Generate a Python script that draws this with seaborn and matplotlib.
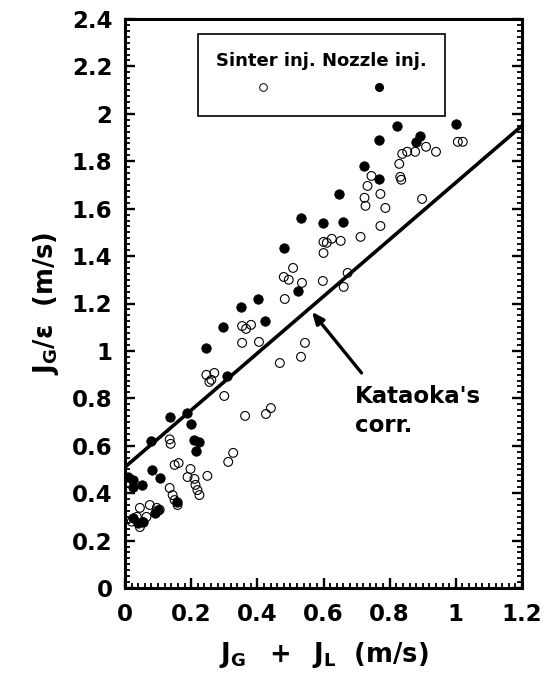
import matplotlib
matplotlib.use("Agg")
import matplotlib.pyplot as plt
import seaborn as sns
import numpy as np
import pandas as pd
from matplotlib.lines import Line2D
from matplotlib.ticker import MultipleLocator, FuncFormatter

# ---- data ----
sinter_x = [0.255, 0.300, 0.363, 0.426, 0.441, 0.135, 0.138, 0.150, 0.162, 0.198,
            0.189, 0.210, 0.213, 0.219, 0.225, 0.249, 0.327, 0.312, 0.135, 0.144,
            0.150, 0.159, 0.045, 0.075, 0.096, 0.036, 0.054, 0.045, 0.065, 0.105,
            0.020, 0.246, 0.261, 0.270, 0.354, 0.366, 0.381, 0.354, 0.405, 0.483,
            0.480, 0.495, 0.508, 0.535, 0.598, 0.600, 0.600, 0.610, 0.625, 0.652,
            0.712, 0.673, 0.661, 0.544, 0.532, 0.468, 1.006, 1.021, 0.910, 0.940,
            0.877, 0.853, 0.838, 0.829, 0.832, 0.835, 0.745, 0.733, 0.724, 0.727,
            0.772, 0.787, 0.772, 0.898]
sinter_y = [0.869, 0.810, 0.726, 0.734, 0.759, 0.627, 0.608, 0.519, 0.527, 0.502,
            0.468, 0.460, 0.435, 0.413, 0.392, 0.473, 0.570, 0.532, 0.422, 0.392,
            0.371, 0.350, 0.338, 0.350, 0.338, 0.300, 0.278, 0.257, 0.300, 0.330,
            0.280, 0.899, 0.878, 0.907, 1.105, 1.093, 1.110, 1.034, 1.038, 1.219,
            1.312, 1.300, 1.350, 1.287, 1.295, 1.413, 1.460, 1.456, 1.473, 1.464,
            1.481, 1.329, 1.270, 1.034, 0.975, 0.949, 1.882, 1.882, 1.861, 1.840,
            1.840, 1.840, 1.831, 1.789, 1.734, 1.722, 1.738, 1.696, 1.646, 1.612,
            1.662, 1.603, 1.527, 1.641]

nozzle_x = [0.008, 0.024, 0.051, 0.024, 0.081, 0.105, 0.078, 0.135, 0.186, 0.201,
            0.210, 0.225, 0.216, 0.024, 0.039, 0.054, 0.090, 0.099, 0.156, 0.246,
            0.297, 0.351, 0.402, 0.423, 0.523, 0.309, 0.480, 0.532, 0.598, 0.658,
            0.646, 0.721, 0.769, 0.769, 0.823, 0.892, 0.880, 1.000]
nozzle_y = [0.470, 0.456, 0.435, 0.426, 0.498, 0.464, 0.620, 0.720, 0.738, 0.692,
            0.624, 0.616, 0.578, 0.295, 0.274, 0.278, 0.316, 0.329, 0.363, 1.013,
            1.101, 1.186, 1.219, 1.127, 1.253, 0.894, 1.435, 1.561, 1.540, 1.544,
            1.662, 1.781, 1.726, 1.890, 1.949, 1.907, 1.882, 1.958]

kataoka_x = [0.0, 1.2]
kataoka_y = [0.51, 1.95]

series_labels = ["Sinter inj.", "Nozzle inj."]
annotation_text = "Kataoka's\ncorr."
x_ticks = [0, 0.2, 0.4, 0.6, 0.8, 1.0, 1.2]
y_ticks = [0, 0.2, 0.4, 0.6, 0.8, 1.0, 1.2, 1.4, 1.6, 1.8, 2.0, 2.2, 2.4]

# ---- style ----
sns.set_style("ticks")
plt.rcParams["font.family"] = ["DejaVu Sans"]
plt.rcParams["font.weight"] = "bold"
plt.rcParams["mathtext.fontset"] = "dejavusans"
for key in ["text.color", "axes.labelcolor", "xtick.color", "ytick.color",
            "axes.edgecolor"]:
    plt.rcParams[key] = "black"

fig = plt.figure(figsize=(5.51, 6.81), dpi=100)
ax = fig.add_axes([125 / 551, 1 - 588 / 681, 397 / 551, 569 / 681])

df_s = pd.DataFrame({"x": sinter_x, "y": sinter_y})
df_n = pd.DataFrame({"x": nozzle_x, "y": nozzle_y})
df_k = pd.DataFrame({"x": kataoka_x, "y": kataoka_y})

sns.lineplot(data=df_k, x="x", y="y", ax=ax, color="black", linewidth=2.6,
             legend=False, zorder=2)
sns.scatterplot(data=df_n, x="x", y="y", ax=ax, color="black", s=46,
                edgecolor="black", linewidth=0.6, legend=False, zorder=3)
sns.scatterplot(data=df_s, x="x", y="y", ax=ax, facecolor="none", s=40,
                edgecolor="black", linewidth=0.8, legend=False, zorder=4)

ax.set_xlim(0, 1.2)
ax.set_ylim(0, 2.4)
ax.set_xticks(x_ticks)
ax.set_yticks(y_ticks)
fmt = FuncFormatter(lambda v, p: f"{v:g}")
ax.xaxis.set_major_formatter(fmt)
ax.yaxis.set_major_formatter(fmt)
ax.xaxis.set_minor_locator(MultipleLocator(0.02))
ax.yaxis.set_minor_locator(MultipleLocator(0.025))

for sp in ax.spines.values():
    sp.set_visible(True)
    sp.set_linewidth(2.2)
    sp.set_color("black")

ax.tick_params(which="both", direction="in", left=True, right=True,
               bottom=True, top=False, color="black", labelcolor="black")
ax.tick_params(which="major", length=7, width=1.7, labelsize=16.5)
ax.tick_params(which="minor", length=3.5, width=1.3)
ax.tick_params(axis="x", which="major", pad=11)
ax.tick_params(axis="y", which="major", pad=9)
for lab in ax.get_xticklabels() + ax.get_yticklabels():
    lab.set_fontweight("bold")

ax.set_xlabel(r"$\mathbf{J_G\ \ +\ \ J_L\ \ (m/s)}$", fontsize=18.5, labelpad=10,
              color="black")
ax.set_ylabel(r"$\mathbf{J_G/\epsilon\ \ (m/s)}$", fontsize=18.5, labelpad=8,
              color="black")

# legend (title over two marker columns)
handles = [
    Line2D([], [], linestyle="none", marker="o", markersize=5.5,
           markerfacecolor="white", markeredgecolor="black", markeredgewidth=0.7),
    Line2D([], [], linestyle="none", marker="o", markersize=5.5,
           markerfacecolor="black", markeredgecolor="black"),
]
leg = ax.legend(handles, ["", ""], ncol=2, title=" ".join(series_labels),
                loc="upper left", bbox_to_anchor=(0.183, 0.974),
                borderaxespad=0, fontsize=13, title_fontsize=13,
                borderpad=1.0, labelspacing=0.55, handlelength=1.0,
                handletextpad=0.0, columnspacing=5.4, fancybox=False,
                frameon=True, framealpha=1, edgecolor="black")
leg.get_frame().set_linewidth(1.2)
leg.get_title().set_fontweight("bold")
leg.get_title().set_color("black")

# Kataoka annotation
ax.annotate("", xy=(0.565, 1.165), xytext=(0.715, 0.907),
            arrowprops=dict(arrowstyle="-|>,head_length=0.7,head_width=0.3",
                            color="black", lw=2.4, shrinkA=0, shrinkB=0))
ax.text(0.694, 0.855, annotation_text, fontsize=16.5, fontweight="bold",
        ha="left", va="top", linespacing=1.3, color="black")

fig.savefig("out.png", dpi=100)
